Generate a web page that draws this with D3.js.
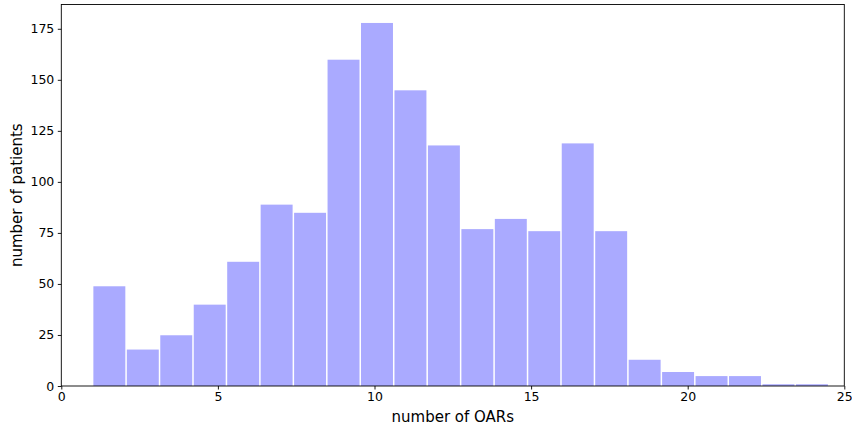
<!DOCTYPE html>
<html>
<head>
<meta charset="utf-8">
<script src="https://cdn.jsdelivr.net/npm/d3@7"></script>
<style>
  html, body { margin: 0; padding: 0; background: #fff; }
  svg { display: block; }
  text { font-family: "DejaVu Sans", sans-serif; fill: #000; }
</style>
</head>
<body>
<svg id="chart" width="852" height="427"></svg>
<script>
// Histogram data: 22 bins from 1 to 24.5
const binStart = 1;
const binEnd = 24.5;
const counts = [49, 18, 25, 40, 61, 89, 85, 160, 178, 145, 118, 77, 82, 76, 119, 76, 13, 7, 5, 5, 1, 1];
const xTicks = [0, 5, 10, 15, 20, 25];
const yTicks = [0, 25, 50, 75, 100, 125, 150, 175];
const xLabel = "number of OARs";
const yLabel = "number of patients";

const svg = d3.select("#chart");
const margin = { left: 61.3, right: 852 - 844.3, top: 4.5, bottom: 427 - 386 };
const W = 852, H = 427;

const binW = (binEnd - binStart) / counts.length;
const bins = counts.map((c, i) => ({ x0: binStart + i * binW, x1: binStart + (i + 1) * binW, c }));

const x = d3.scaleLinear().domain([0, 25]).range([margin.left, W - margin.right]);
const yMax = d3.max(counts) * 1.05;
const y = d3.scaleLinear().domain([0, yMax]).range([H - margin.bottom, margin.top]);

const gap = 0.75; // half of white edge on each side
svg.append("g").selectAll("rect").data(bins).join("rect")
  .attr("x", d => x(d.x0) + gap)
  .attr("width", d => x(d.x1) - x(d.x0) - 2 * gap)
  .attr("y", d => y(d.c) + 0.3)
  .attr("height", d => y(0) - y(d.c) - 0.3)
  .attr("fill", "#aaaaff");

// frame
svg.append("rect")
  .attr("x", x(0)).attr("y", y(yMax))
  .attr("width", x(25) - x(0)).attr("height", y(0) - y(yMax))
  .attr("fill", "none").attr("stroke", "#000").attr("stroke-width", 0.9);

const xAxis = d3.axisBottom(x).tickValues(xTicks).tickSize(3.5).tickPadding(3).tickFormat(d3.format("d"));
const gx = svg.append("g").attr("transform", `translate(0,${y(0)})`).call(xAxis);
gx.select(".domain").remove();
gx.selectAll("line").attr("stroke", "#000").attr("stroke-width", 0.9);
gx.selectAll("text").attr("font-size", "12.5px").attr("font-family", "DejaVu Sans").attr("fill", "#000");

const yAxis = d3.axisLeft(y).tickValues(yTicks).tickSize(3.5).tickPadding(3.5).tickFormat(d3.format("d"));
const gy = svg.append("g").attr("transform", `translate(${x(0)},0)`).call(yAxis);
gy.select(".domain").remove();
gy.selectAll("line").attr("stroke", "#000").attr("stroke-width", 0.9);
gy.selectAll("text").attr("font-size", "12.5px").attr("font-family", "DejaVu Sans").attr("fill", "#000");

svg.append("text")
  .attr("x", (x(0) + x(25)) / 2).attr("y", 422)
  .attr("text-anchor", "middle").attr("font-size", "15px")
  .text(xLabel);

svg.append("text")
  .attr("transform", `translate(22,${(y(0) + y(yMax)) / 2}) rotate(-90)`)
  .attr("text-anchor", "middle").attr("font-size", "15px")
  .text(yLabel);
</script>
</body>
</html>
